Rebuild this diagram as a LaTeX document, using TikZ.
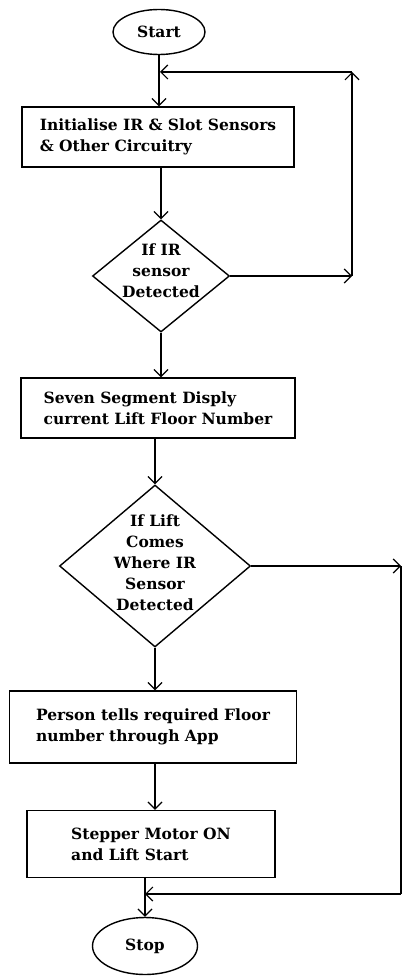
\documentclass[tikz,border=0pt]{standalone}
\usepackage{fontspec}
\setmainfont{DejaVu Serif}
\usetikzlibrary{arrows.meta,shapes.geometric}
\begin{document}
\begin{tikzpicture}[x=1pt,y=-1pt,
  every node/.style={font=\bfseries\fontsize{15.5}{21}\selectfont},
  line/.style={line width=1.4pt},
  arr/.style={line, -{Straight Barb[length=7pt,width=14pt,line width=1.2pt]}},
  term/.style={ellipse, draw, line width=1.4pt, inner sep=0pt},
  proc/.style={rectangle, draw, line width=1.4pt, align=left, inner sep=0pt},
  dec/.style={diamond, draw, line width=1.4pt, align=center, inner sep=0pt}]
\useasboundingbox (0,0) rectangle (403,976);
\node[term, minimum width=92pt, minimum height=45pt] (start) at (159,32) {Start};
\node[proc, minimum width=272pt, minimum height=60pt] (p1) at (158,137) {Initialise IR \& Slot Sensors\\\& Other Circuitry};
\node[dec, minimum width=137pt, minimum height=112pt] (d1) at (161,276) {};
\node (d1t) at (161,271) [align=center] {If IR\\sensor\\Detected};
\node[proc, minimum width=274pt, minimum height=60pt] (p2) at (158,408) {Seven Segment Disply\\current Lift Floor Number};
\node[dec, minimum width=191pt, minimum height=162pt] (d2) at (155,566) {};
\node (d2t) at (155,563) [align=center] {If Lift\\Comes\\Where IR\\Sensor\\Detected};
\node[proc, minimum width=287pt, minimum height=72pt] (p3) at (153,727) {Person tells required Floor\\number through App};
\node[proc, minimum width=248pt, minimum height=67pt] (p4) at (151,844) {Stepper Motor ON\\and Lift Start};
\node[term, minimum width=105pt, minimum height=57pt] (stop) at (145,946) {Stop};
\coordinate (j1) at (160,72);
\coordinate (c1) at (352,276);
\coordinate (c2) at (352,72);
\coordinate (c3) at (401,566);
\coordinate (c4) at (401,894);
\coordinate (j2) at (145,894);
\draw[arr] (start.south) -- (p1.north -| start.south);
\draw[arr] (d1.east) -- (c1);
\draw[arr] (c1) -- (c2);
\draw[arr] (c2) -- (j1);
\draw[arr] (p1.south -| d1.north) -- (d1.north);
\draw[arr] (d1.south) -- (p2.north -| d1.south);
\draw[arr] (p2.south -| d2.north) -- (d2.north);
\draw[arr] (d2.east) -- (c3);
\draw[line] (c3) -- (c4);
\draw[arr] (c4) -- (j2);
\draw[arr] (d2.south) -- (p3.north -| d2.south);
\draw[arr] (p3.south -| d2.south) -- (p4.north -| d2.south);
\draw[arr] (p4.south -| stop.north) -- (stop.north);
\end{tikzpicture}
\end{document}
